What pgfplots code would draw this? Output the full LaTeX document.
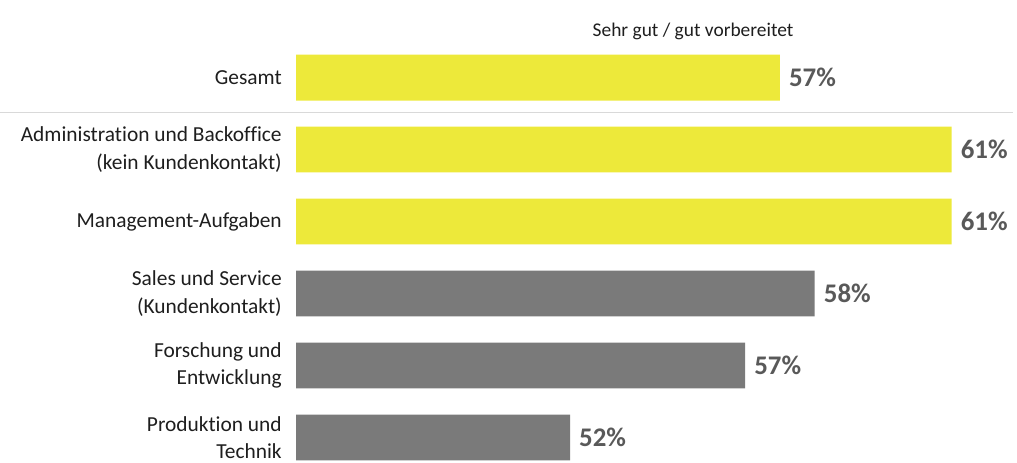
\documentclass[border=0pt]{standalone}
\usepackage{pgfplots}
\pgfplotsset{compat=1.18}
\usepackage{fontspec}
\setmainfont[Ligatures=NoCommon]{Carlito}
\definecolor{barY}{HTML}{EDE93A}
\definecolor{barG}{HTML}{7A7A7A}
\definecolor{valC}{HTML}{595959}
\definecolor{labC}{HTML}{1E1E1E}
\begin{document}
\begin{tikzpicture}
\path (0,0) rectangle (1017pt,465pt);
\begin{axis}[
  at={(297pt,0pt)}, anchor=south west,
  scale only axis, width=720pt, height=465pt,
  xmin=45.54, xmax=62.44, ymin=-5.353, ymax=1.079,
  xbar, bar width=46pt, bar shift=0pt,
  axis line style={draw=none}, tick style={draw=none},
  xtick=\empty,
  ytick={0,-1,-2,-3,-4,-5},
  yticklabels={Gesamt,{Administration und Backoffice\\(kein Kundenkontakt)},Management-Aufgaben,{Sales und Service\\(Kundenkontakt)},{Forschung und\\Entwicklung},{Produktion und\\Technik}},
  yticklabel style={align=right, font=\fontsize{21.5}{27.5}\selectfont, text=labC, inner sep=0pt, xshift=-10pt},
  clip=false,
  nodes near coords, point meta=explicit symbolic,
  nodes near coords style={anchor=west, xshift=9pt, inner sep=0pt, font=\fontsize{27}{32}\selectfont\bfseries, text=valC},
]
\addplot[fill=barY, draw=none] coordinates {(56.95,0) [57\%] (61,-1) [61\%] (61,-2) [61\%]};
\addplot[fill=barG, draw=none] coordinates {(57.77,-3) [58\%] (56.13,-4) [57\%] (52,-5) [52\%]};
\draw[black!15, line width=1pt] ([xshift=-297pt]axis cs:45.54,-0.48) -- (axis cs:62.44,-0.48);
\node[font=\fontsize{19.5}{23}\selectfont, text=labC] at (axis cs:54.9,0.64) {Sehr gut / gut vorbereitet};
\end{axis}
\end{tikzpicture}
\end{document}
